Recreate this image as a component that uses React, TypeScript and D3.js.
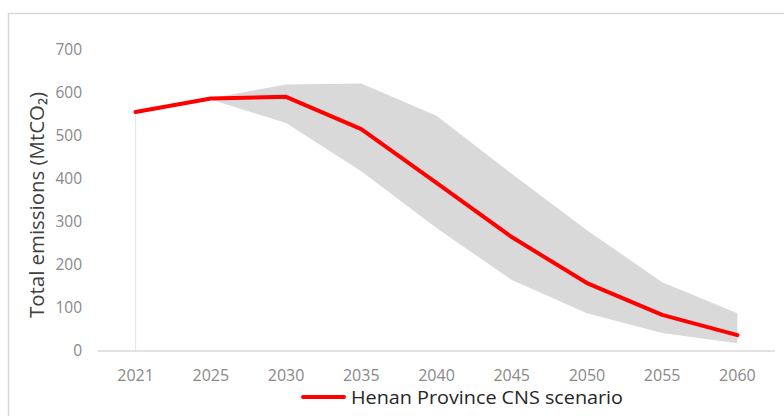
import React from "react";
import * as d3 from "d3";

const years = ["2021", "2025", "2030", "2035", "2040", "2045", "2050", "2055", "2060"];
const cnsScenario = [556, 587, 591, 516, 391, 265, 158, 84, 37];
const bandUpper = [556, 588, 620, 622, 547, 412, 281, 160, 88];
const bandLower = [556, 585, 530, 418, 286, 165, 88, 42, 18];
const yTicks = [0, 100, 200, 300, 400, 500, 600, 700];
const yTitle = "Total emissions (MtCO\u2082)";
const legendLabel = "Henan Province CNS scenario";

const W = 784;
const H = 416;
const FONT = "'Open Sans', 'Liberation Sans', sans-serif";

export default function App() {
  const x = d3.scaleBand<string>().domain(years).range([98, 775]).padding(0);
  const cx = (d: string) => (x(d) as number) + x.bandwidth() / 2;
  const y = d3.scaleLinear().domain([0, 700]).range([351, 50]);

  const idx = years.map((_, i) => i);
  const area = d3
    .area<number>()
    .x((i) => cx(years[i]))
    .y0((i) => y(bandLower[i]))
    .y1((i) => y(bandUpper[i]));
  const line = d3
    .line<number>()
    .x((i) => cx(years[i]))
    .y((i) => y(cnsScenario[i]));

  return (
    <svg
      width={W}
      height={H}
      style={{ position: "absolute", left: 0, top: 0, background: "#fff" }}
    >
      <rect x={8.5} y={13.5} width={W + 10} height={H + 10} fill="#fff" stroke="#d9d9d9" strokeWidth={1.5} />
      <path d={area(idx.slice(1)) || ""} fill="#d9d9d9" />
      <line
        x1={cx(years[0])}
        x2={cx(years[0])}
        y1={y(bandLower[0])}
        y2={y(0)}
        stroke="#e3e3e3"
        strokeWidth={1}
      />
      <line x1={98} x2={775} y1={y(0)} y2={y(0)} stroke="#d9d9d9" strokeWidth={1.5} />
      {yTicks.map((t) => (
        <text
          key={t}
          x={82}
          y={y(t)}
          dy="0.35em"
          textAnchor="end"
          fontFamily={FONT}
          fontSize={15.5}
          fill="#898989"
        >
          {t}
        </text>
      ))}
      {years.map((yr) => (
        <text
          key={yr}
          x={cx(yr)}
          y={375}
          dy="0.35em"
          textAnchor="middle"
          fontFamily={FONT}
          fontSize={16}
          fill="#898989"
        >
          {yr}
        </text>
      ))}
      <text
        transform={`translate(37,205) rotate(-90)`}
        x={-113}
        dy="0.35em"
        fontFamily={FONT}
        fontSize={20}
        fill="#404040"
        textLength={226}
        lengthAdjust="spacingAndGlyphs"
      >
        {yTitle}
      </text>
      <path
        d={line(idx) || ""}
        fill="none"
        stroke="#ff0000"
        strokeWidth={4}
        strokeLinejoin="round"
        strokeLinecap="round"
      />
      <line x1={303} x2={344} y1={397} y2={397} stroke="#ff0000" strokeWidth={4} strokeLinecap="round" />
      <text
        x={351}
        y={398}
        dy="0.35em"
        fontFamily={FONT}
        fontSize={17.5}
        fill="#262626"
        textLength={272}
        lengthAdjust="spacingAndGlyphs"
      >
        {legendLabel}
      </text>
    </svg>
  );
}
